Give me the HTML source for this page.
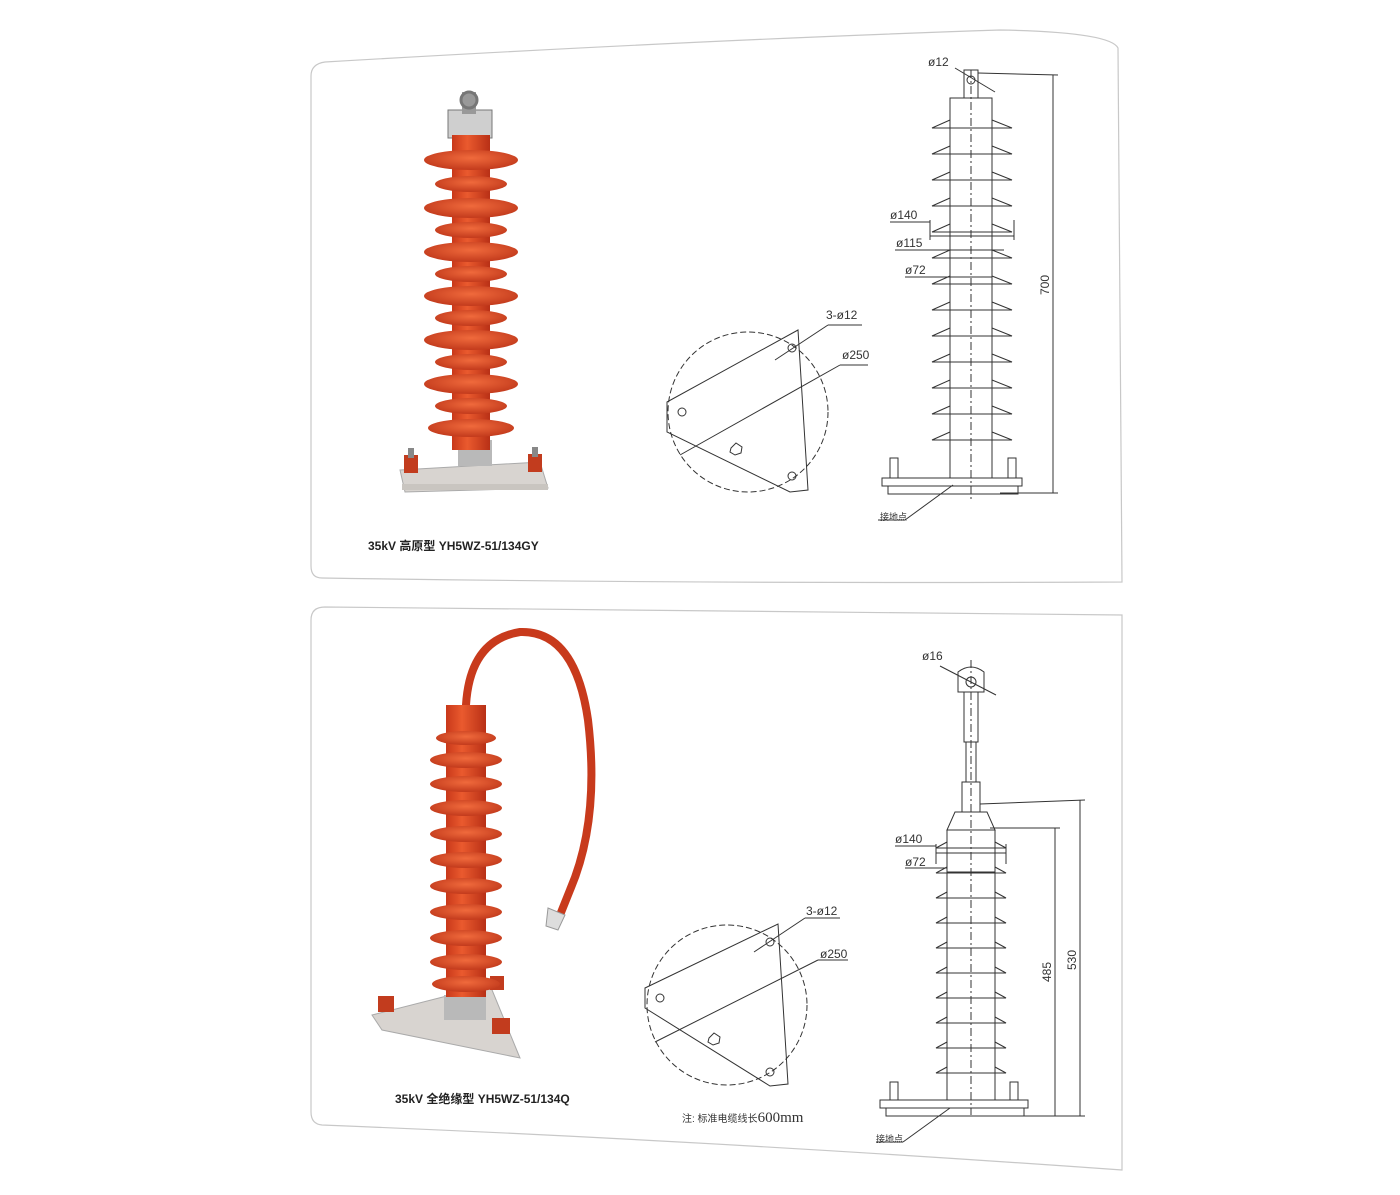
<!DOCTYPE html>
<html><head><meta charset="utf-8"><style>
html,body{margin:0;padding:0;background:#fff;}
svg{display:block;font-family:"Liberation Sans","Noto Sans CJK SC",sans-serif;}
</style></head><body>
<svg width="1400" height="1195" viewBox="0 0 1400 1195" xmlns="http://www.w3.org/2000/svg">
<defs>
<linearGradient id="og" x1="0" x2="1"><stop offset="0" stop-color="#c8381a"/><stop offset="0.4" stop-color="#ea5a2e"/><stop offset="1" stop-color="#b83016"/></linearGradient>
<radialGradient id="sg" cx="0.5" cy="0.4" r="0.6"><stop offset="0" stop-color="#f06a3c"/><stop offset="1" stop-color="#c23a1c"/></radialGradient>
</defs>
<!-- panels -->
<path d="M325,62 Q700,40 1000,30 Q1110,32 1118,48 L1122,582 Q700,584 322,578 Q311,578 311,566 L311,76 Q311,64 325,62Z" fill="#fff" stroke="#c8c8c8" stroke-width="1.2"/>
<path d="M325,607 Q700,612 1122,615 L1122,1170 Q700,1140 322,1125 Q311,1124 311,1112 L311,620 Q311,607 325,607Z" fill="#fff" stroke="#c8c8c8" stroke-width="1.2"/>

<!-- TOP ARRESTER PHOTO -->
<polygon points="400,470 540,462 548,488 405,492" fill="#d8d4d0" stroke="#aaa"/>
<rect x="402" y="484" width="146" height="6" fill="#c9c5c0"/>
<g fill="#c23c1e"><rect x="404" y="455" width="14" height="18"/><rect x="528" y="454" width="14" height="18"/></g>
<rect x="408" y="448" width="6" height="10" fill="#888"/><rect x="532" y="447" width="6" height="10" fill="#888"/>
<rect x="458" y="440" width="34" height="26" fill="#b9b9b9"/>
<rect x="448" y="110" width="44" height="28" fill="#cfcfcf" stroke="#777"/>
<rect x="462" y="92" width="14" height="22" fill="#999"/>
<circle cx="469" cy="100" r="8" fill="none" stroke="#777" stroke-width="3"/>
<rect x="452" y="135" width="38" height="315" fill="url(#og)"/>
<g fill="url(#sg)">
<ellipse cx="471" cy="160" rx="47" ry="10"/><ellipse cx="471" cy="184" rx="36" ry="8"/>
<ellipse cx="471" cy="208" rx="47" ry="10"/><ellipse cx="471" cy="230" rx="36" ry="8"/>
<ellipse cx="471" cy="252" rx="47" ry="10"/><ellipse cx="471" cy="274" rx="36" ry="8"/>
<ellipse cx="471" cy="296" rx="47" ry="10"/><ellipse cx="471" cy="318" rx="36" ry="8"/>
<ellipse cx="471" cy="340" rx="47" ry="10"/><ellipse cx="471" cy="362" rx="36" ry="8"/>
<ellipse cx="471" cy="384" rx="47" ry="10"/><ellipse cx="471" cy="406" rx="36" ry="8"/>
<ellipse cx="471" cy="428" rx="43" ry="9"/>
</g>
<text x="368" y="550" font-size="12" font-weight="bold" fill="#222">35kV 高原型 YH5WZ-51/134GY</text>

<!-- TOP TRIANGLE -->
<g stroke="#333" fill="none" stroke-width="1">
<circle cx="748" cy="412" r="80" stroke-dasharray="6,3"/>
<polygon points="667,402 798,330 808,490 790,492 667,432"/>
<circle cx="682" cy="412" r="4"/><circle cx="792" cy="348" r="4"/><circle cx="792" cy="476" r="4"/>
<polygon points="731,448 736,443 742,447 741,453 735,455 730,452"/>
<line x1="775" y1="360" x2="828" y2="325"/><line x1="828" y1="325" x2="862" y2="325"/>
<line x1="680" y1="455" x2="840" y2="365"/><line x1="840" y1="365" x2="868" y2="365"/>
</g>
<text x="826" y="319" font-size="12" fill="#333">3-ø12</text>
<text x="842" y="359" font-size="12" fill="#333">ø250</text>

<!-- TOP DRAWING -->
<g stroke="#333" fill="none" stroke-width="1">
<rect x="964" y="70" width="14" height="28"/>
<circle cx="971" cy="80" r="4"/>
<rect x="950" y="98" width="42" height="380"/>
<line x1="971" y1="70" x2="971" y2="500" stroke-dasharray="8,3,2,3"/>
<g id="sh1">
<path d="M950,120 L932,128 L1012,128 L992,120"/>
</g>
<path d="M950,146 L932,154 L1012,154 L992,146"/>
<path d="M950,172 L932,180 L1012,180 L992,172"/>
<path d="M950,198 L932,206 L1012,206 L992,198"/>
<path d="M950,224 L932,232 L1012,232 L992,224"/>
<path d="M950,250 L932,258 L1012,258 L992,250"/>
<path d="M950,276 L932,284 L1012,284 L992,276"/>
<path d="M950,302 L932,310 L1012,310 L992,302"/>
<path d="M950,328 L932,336 L1012,336 L992,328"/>
<path d="M950,354 L932,362 L1012,362 L992,354"/>
<path d="M950,380 L932,388 L1012,388 L992,380"/>
<path d="M950,406 L932,414 L1012,414 L992,406"/>
<path d="M950,432 L932,440 L1012,440 L992,432"/>
<rect x="882" y="478" width="140" height="8"/>
<rect x="888" y="486" width="130" height="8"/>
<rect x="890" y="458" width="8" height="20"/><rect x="1008" y="458" width="8" height="20"/>
<line x1="978" y1="73" x2="1058" y2="75"/><line x1="1000" y1="493" x2="1058" y2="493"/>
<line x1="1053" y1="75" x2="1053" y2="493"/>
<line x1="930" y1="236" x2="1014" y2="236"/><line x1="890" y1="222" x2="930" y2="222"/><line x1="930" y1="220" x2="930" y2="240"/><line x1="1014" y1="220" x2="1014" y2="240"/>
<line x1="940" y1="250" x2="1004" y2="250"/><line x1="895" y1="250" x2="940" y2="250"/>
<line x1="950" y1="277" x2="992" y2="277"/><line x1="905" y1="277" x2="950" y2="277"/>
<line x1="953" y1="485" x2="905" y2="520"/><line x1="878" y1="520" x2="905" y2="520"/>
<line x1="955" y1="68" x2="995" y2="92"/>
</g>
<text x="928" y="66" font-size="12" fill="#333">ø12</text>
<text x="890" y="219" font-size="12" fill="#333">ø140</text>
<text x="896" y="247" font-size="12" fill="#333">ø115</text>
<text x="905" y="274" font-size="12" fill="#333">ø72</text>
<text x="880" y="520" font-size="9" fill="#333">接地点</text>
<text transform="translate(1049,295) rotate(-90)" font-size="12" fill="#333">700</text>

<!-- BOTTOM ARRESTER PHOTO -->
<polygon points="372,1015 490,985 520,1058 382,1030" fill="#d8d4d0" stroke="#aaa"/>
<g fill="#c23c1e"><rect x="378" y="996" width="16" height="16"/><rect x="492" y="1018" width="18" height="16"/><rect x="490" y="976" width="14" height="14"/></g>
<rect x="444" y="995" width="42" height="25" fill="#b9b9b9"/>
<path d="M466,705 Q470,640 520,632 Q575,630 588,720 Q600,820 570,890 L560,915" fill="none" stroke="#c83a1c" stroke-width="8" stroke-linecap="round"/>
<path d="M548,908 L565,915 L558,930 L546,926Z" fill="#ddd" stroke="#999"/>
<rect x="446" y="705" width="40" height="292" fill="url(#og)"/>
<g fill="url(#sg)">
<ellipse cx="466" cy="738" rx="30" ry="7"/><ellipse cx="466" cy="760" rx="36" ry="8"/>
<ellipse cx="466" cy="784" rx="36" ry="8"/><ellipse cx="466" cy="808" rx="36" ry="8"/>
<ellipse cx="466" cy="834" rx="36" ry="8"/><ellipse cx="466" cy="860" rx="36" ry="8"/>
<ellipse cx="466" cy="886" rx="36" ry="8"/><ellipse cx="466" cy="912" rx="36" ry="8"/>
<ellipse cx="466" cy="938" rx="36" ry="8"/><ellipse cx="466" cy="962" rx="36" ry="8"/>
<ellipse cx="466" cy="984" rx="34" ry="8"/>
</g>
<text x="395" y="1103" font-size="12" font-weight="bold" fill="#222">35kV 全绝缘型 YH5WZ-51/134Q</text>
<text x="682" y="1122" font-size="10" fill="#333">注: 标准电缆线长<tspan font-size="15" font-family="Liberation Serif,serif">600mm</tspan></text>

<!-- BOTTOM TRIANGLE -->
<g stroke="#333" fill="none" stroke-width="1">
<circle cx="727" cy="1005" r="80" stroke-dasharray="6,3"/>
<polygon points="645,988 778,924 788,1084 770,1086 645,1008"/>
<circle cx="660" cy="998" r="4"/><circle cx="770" cy="942" r="4"/><circle cx="770" cy="1072" r="4"/>
<polygon points="709,1038 714,1033 720,1037 719,1043 713,1045 708,1042"/>
<line x1="754" y1="952" x2="805" y2="918"/><line x1="805" y1="918" x2="840" y2="918"/>
<line x1="655" y1="1042" x2="818" y2="960"/><line x1="818" y1="960" x2="848" y2="960"/>
</g>
<text x="806" y="915" font-size="12" fill="#333">3-ø12</text>
<text x="820" y="958" font-size="12" fill="#333">ø250</text>

<!-- BOTTOM DRAWING -->
<g stroke="#333" fill="none" stroke-width="1">
<path d="M958,692 L958,672 Q971,662 984,672 L984,692Z"/>
<circle cx="971" cy="682" r="5"/>
<rect x="964" y="692" width="14" height="50"/>
<rect x="966" y="742" width="10" height="40"/>
<rect x="962" y="782" width="18" height="30"/>
<path d="M955,812 L987,812 L995,830 L947,830Z"/>
<rect x="947" y="830" width="48" height="270"/>
<line x1="971" y1="660" x2="971" y2="1115" stroke-dasharray="8,3,2,3"/>
<path d="M947,842 L936,848 L1006,848 L995,842"/>
<path d="M947,867 L936,873 L1006,873 L995,867"/>
<path d="M947,892 L936,898 L1006,898 L995,892"/>
<path d="M947,917 L936,923 L1006,923 L995,917"/>
<path d="M947,942 L936,948 L1006,948 L995,942"/>
<path d="M947,967 L936,973 L1006,973 L995,967"/>
<path d="M947,992 L936,998 L1006,998 L995,992"/>
<path d="M947,1017 L936,1023 L1006,1023 L995,1017"/>
<path d="M947,1042 L936,1048 L1006,1048 L995,1042"/>
<path d="M947,1067 L936,1073 L1006,1073 L995,1067"/>
<rect x="880" y="1100" width="148" height="8"/>
<rect x="886" y="1108" width="138" height="8"/>
<rect x="890" y="1082" width="8" height="18"/><rect x="1010" y="1082" width="8" height="18"/>
<line x1="980" y1="804" x2="1085" y2="800"/><line x1="990" y1="828" x2="1060" y2="828"/>
<line x1="1010" y1="1116" x2="1085" y2="1116"/>
<line x1="1080" y1="800" x2="1080" y2="1116"/><line x1="1055" y1="828" x2="1055" y2="1116"/>
<line x1="936" y1="853" x2="1006" y2="853"/><line x1="895" y1="846" x2="936" y2="846"/><line x1="936" y1="844" x2="936" y2="864"/><line x1="1006" y1="844" x2="1006" y2="864"/>
<line x1="947" y1="872" x2="995" y2="872"/><line x1="905" y1="868" x2="947" y2="868"/>
<line x1="950" y1="1108" x2="903" y2="1142"/><line x1="876" y1="1142" x2="903" y2="1142"/>
<line x1="940" y1="666" x2="996" y2="695"/>
</g>
<text x="922" y="660" font-size="12" fill="#333">ø16</text>
<text x="895" y="843" font-size="12" fill="#333">ø140</text>
<text x="905" y="866" font-size="12" fill="#333">ø72</text>
<text x="876" y="1142" font-size="9" fill="#333">接地点</text>
<text transform="translate(1051,982) rotate(-90)" font-size="12" fill="#333">485</text>
<text transform="translate(1076,970) rotate(-90)" font-size="12" fill="#333">530</text>
</svg>
</body></html>
